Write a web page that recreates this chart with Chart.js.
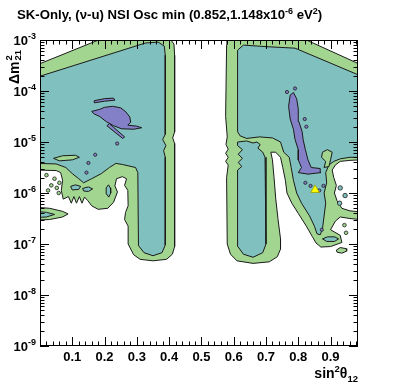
<!DOCTYPE html>
<html>
<head>
<meta charset="utf-8">
<script src="https://cdn.jsdelivr.net/npm/chart.js@4.4.0/dist/chart.umd.min.js"></script>
<style>
  html, body { margin: 0; padding: 0; background: #fff; }
  #chart { display: block; }
</style>
</head>
<body>
<canvas id="chart" width="399" height="385"></canvas>
<script>
// contour outlines: [sin^2(theta12), log10(dm2_21)]
const greenLeft = [
  [-0.01, -3.49], [0.193, -2.97], [0.402, -2.97], [0.415, -3.08], [0.417, -3.3], [0.417, -4.8],
  [0.411, -4.92], [0.417, -5.03], [0.417, -7.05], [0.41, -7.2], [0.392, -7.3], [0.35, -7.33],
  [0.31, -7.3], [0.29, -7.21], [0.273, -7.0], [0.273, -6.65], [0.262, -6.52], [0.265, -6.38],
  [0.273, -6.25], [0.272, -5.95], [0.262, -5.85], [0.268, -5.72], [0.255, -5.68], [0.237, -5.72],
  [0.232, -5.86], [0.24, -5.98], [0.228, -6.18], [0.21, -6.3], [0.18, -6.32], [0.16, -6.25],
  [0.148, -6.15], [0.138, -6.08], [0.13, -6.2], [0.122, -6.07], [0.113, -6.2], [0.105, -6.07],
  [0.097, -6.2], [0.088, -6.07], [0.072, -6.12], [0.066, -5.95], [0.07, -5.75], [0.064, -5.6],
  [0.05, -5.56], [-0.01, -5.55], [-0.01, -3.49]
];
const tealLeft = [
  [-0.01, -3.73], [0.326, -3.06], [0.366, -3.04], [0.385, -3.12], [0.388, -3.3], [0.388, -4.85],
  [0.38, -4.95], [0.39, -5.07], [0.383, -5.17], [0.388, -5.3], [0.388, -7.02], [0.378, -7.17],
  [0.35, -7.23], [0.322, -7.17], [0.305, -7.03], [0.303, -5.6], [0.296, -5.5], [0.255, -5.44],
  [0.235, -5.42], [0.215, -5.5], [0.19, -5.62], [0.16, -5.72], [0.135, -5.8], [0.12, -5.72],
  [0.1, -5.62], [0.08, -5.5], [0.05, -5.43], [-0.01, -5.42], [-0.01, -3.73]
];
const greenSliverLeft = [
  [0.042, -5.32], [0.07, -5.27], [0.11, -5.26], [0.122, -5.3], [0.1, -5.35], [0.06, -5.37], [0.042, -5.32]
];
const greenBlobLeft = [
  [-0.01, -6.28], [0.03, -6.3], [0.07, -6.36], [0.087, -6.41], [0.07, -6.47], [0.03, -6.52],
  [-0.01, -6.53], [-0.01, -6.28]
];
const tealBlobLeft = [
  [-0.01, -6.36], [0.02, -6.38], [0.045, -6.42], [0.02, -6.47], [-0.01, -6.48], [-0.01, -6.36]
];
const tealIslandA = [
  [0.212, -5.84], [0.218, -5.9], [0.219, -6.0], [0.213, -6.08], [0.206, -6.02], [0.205, -5.9], [0.212, -5.84]
];
const tealIslandB = [
  [0.095, -5.87], [0.11, -5.84], [0.126, -5.87], [0.12, -5.93], [0.1, -5.94], [0.095, -5.87]
];
const tealIslandC = [
  [0.132, -5.91], [0.15, -5.88], [0.163, -5.92], [0.15, -5.97], [0.135, -5.96], [0.132, -5.91]
];
const purpleLeft = [
  [0.16, -4.4], [0.185, -4.36], [0.2, -4.32], [0.225, -4.3], [0.25, -4.33], [0.266, -4.41],
  [0.278, -4.51], [0.281, -4.61], [0.272, -4.67], [0.3, -4.69], [0.315, -4.72], [0.29, -4.75],
  [0.252, -4.74], [0.228, -4.68], [0.205, -4.6], [0.185, -4.5], [0.168, -4.45], [0.16, -4.4]
];
const purpleStreakLeft = [
  [0.215, -4.64], [0.262, -4.9], [0.256, -4.93], [0.207, -4.68], [0.215, -4.64]
];
const purpleBitsLeft = [
  [0.168, -4.19], [0.2, -4.15], [0.228, -4.14], [0.232, -4.18], [0.2, -4.2], [0.17, -4.23], [0.168, -4.19]
];

const greenRight = [
  [0.579, -2.97], [0.815, -2.97], [0.992, -3.48], [0.992, -5.35], [0.96, -5.36], [0.93, -5.38],
  [0.915, -5.45], [0.905, -5.55], [0.91, -5.7], [0.918, -5.85], [0.912, -6.0], [0.92, -6.15],
  [0.935, -6.3], [0.96, -6.35], [0.992, -6.37], [0.992, -6.52], [0.96, -6.5], [0.93, -6.47],
  [0.915, -6.55], [0.9, -6.72], [0.93, -6.83], [0.935, -6.97], [0.9, -7.05], [0.87, -7.06],
  [0.855, -6.98], [0.843, -6.85], [0.825, -6.65], [0.8, -6.4], [0.78, -6.2], [0.765, -6.0],
  [0.76, -5.75], [0.752, -5.5], [0.745, -5.3], [0.73, -5.2], [0.715, -5.2], [0.72, -5.35],
  [0.725, -5.7], [0.73, -6.1], [0.737, -6.5], [0.745, -6.9], [0.745, -7.1], [0.735, -7.25],
  [0.71, -7.35], [0.66, -7.38], [0.61, -7.33], [0.59, -7.2], [0.58, -7.0], [0.578, -5.7],
  [0.583, -5.45], [0.575, -5.38], [0.583, -5.3], [0.575, -5.22], [0.583, -5.14], [0.576, -5.05],
  [0.58, -4.9], [0.575, -4.5], [0.578, -3.1], [0.579, -2.97]
];
const tealRight = [
  [0.612, -3.2], [0.63, -3.1], [0.7, -3.13], [0.79, -3.16], [0.992, -3.7], [0.992, -5.3],
  [0.96, -5.3], [0.93, -5.33], [0.91, -5.38], [0.895, -5.45], [0.885, -5.6], [0.888, -5.8],
  [0.88, -6.0], [0.885, -6.2], [0.88, -6.45], [0.875, -6.7], [0.868, -6.82], [0.858, -6.8],
  [0.85, -6.65], [0.835, -6.45], [0.81, -6.2], [0.795, -6.0], [0.785, -5.75], [0.778, -5.5],
  [0.772, -5.3], [0.755, -5.2], [0.745, -5.0], [0.72, -4.92], [0.68, -4.9], [0.64, -4.93],
  [0.62, -4.88], [0.612, -4.8], [0.612, -3.2]
];
const tealColumn = [
  [0.612, -5.0], [0.64, -4.98], [0.66, -5.02], [0.672, -5.0], [0.682, -5.05], [0.675, -5.12],
  [0.69, -5.2], [0.697, -5.3], [0.7, -7.0], [0.69, -7.17], [0.66, -7.26], [0.63, -7.2],
  [0.613, -7.05], [0.612, -5.55], [0.625, -5.48], [0.614, -5.4], [0.627, -5.32], [0.614, -5.24],
  [0.627, -5.15], [0.612, -5.07], [0.612, -5.0]
];
const greenIslandRight = [
  [0.875, -5.2], [0.89, -5.15], [0.905, -5.2], [0.9, -5.35], [0.895, -5.48], [0.88, -5.5],
  [0.885, -5.38], [0.872, -5.3], [0.875, -5.2]
];
const tealBlobBand = [
  [0.875, -6.9], [0.89, -6.86], [0.913, -6.86], [0.925, -6.9], [0.912, -6.95], [0.888, -6.95], [0.875, -6.9]
];
const greenBlobBottom = [
  [0.918, -7.12], [0.93, -7.07], [0.948, -7.09], [0.95, -7.14], [0.935, -7.18], [0.92, -7.16], [0.918, -7.12]
];
const purpleRight = [
  [0.775, -4.08], [0.77, -4.3], [0.775, -4.55], [0.785, -4.75], [0.79, -4.95], [0.8, -5.15],
  [0.8, -5.35], [0.81, -5.5], [0.8, -5.6], [0.83, -5.63], [0.87, -5.6], [0.868, -5.52],
  [0.84, -5.5], [0.83, -5.35], [0.822, -5.15], [0.815, -4.95], [0.812, -4.8], [0.802, -4.6],
  [0.8, -4.35], [0.795, -4.15], [0.785, -4.03], [0.775, -4.08]
];

// small islands
const purpleDots = [
  [0.239, -5.03], [0.171, -5.25], [0.15, -5.41], [0.144, -5.6], [0.822, -5.8], [0.838, -5.86],
  [0.878, -5.86], [0.865, -5.95], [0.873, -6.72], [0.79, -3.95], [0.765, -4.02], [0.82, -4.55],
  [0.825, -4.7]
];
const greenDots = [
  [0.02, -5.65], [0.045, -5.72], [0.035, -5.85], [0.052, -5.9], [0.058, -6.0], [0.025, -5.95],
  [0.06, -5.8], [0.943, -6.63], [0.948, -6.78]
];
const tealDots = [
  [0.93, -5.9], [0.945, -6.05], [0.928, -6.2]
];

const bestFitX = [0.852];
const bestFitY = [1.148e-6];

const xTickLabels = ['0.1', '0.2', '0.3', '0.4', '0.5', '0.6', '0.7', '0.8', '0.9'];
const yTickExponents = [-9, -8, -7, -6, -5, -4, -3];

const GREEN = '#a2d690';
const TEAL = '#80c0be';
const PURPLE = '#8480c8';
const LINE = '#1a1a1a';
const FONT = '"Liberation Sans", Arial, sans-serif';

function toPoints(poly) {
  return poly.map(p => ({ x: p[0], y: Math.pow(10, p[1]) }));
}

function contour(poly, color, order) {
  return {
    data: toPoints(poly),
    fill: 'shape',
    backgroundColor: color,
    borderColor: LINE,
    borderWidth: 1,
    pointRadius: 0,
    tension: 0,
    order: order
  };
}

function dots(pts, color, r, order) {
  return {
    data: toPoints(pts),
    showLine: false,
    pointRadius: r,
    pointBackgroundColor: color,
    pointBorderColor: LINE,
    pointBorderWidth: 0.8,
    order: order
  };
}

function drawRich(ctx, parts, x, y, align) {
  let w = 0;
  parts.forEach(p => {
    ctx.font = 'bold ' + p[1] + 'px ' + FONT;
    w += ctx.measureText(p[0]).width;
  });
  let cx = align === 'right' ? x - w : x;
  parts.forEach(p => {
    ctx.font = 'bold ' + p[1] + 'px ' + FONT;
    ctx.fillText(p[0], cx, y + p[2]);
    cx += ctx.measureText(p[0]).width;
  });
  return w;
}

const rootAxes = {
  id: 'rootAxes',
  afterDraw(chart) {
    const { ctx, chartArea: a, scales } = chart;
    const xs = scales.x, ys = scales.y;
    ctx.save();
    ctx.strokeStyle = '#000';
    ctx.lineWidth = 1;

    ctx.beginPath();
    for (let i = 0; i * 0.02 <= xs.max + 1e-9; i++) {
      const px = Math.round(xs.getPixelForValue(i * 0.02)) + 0.5;
      const len = i % 5 === 0 ? 9 : 4.5;
      ctx.moveTo(px, a.bottom);
      ctx.lineTo(px, a.bottom - len);
      ctx.moveTo(px, a.top);
      ctx.lineTo(px, a.top + len);
    }
    yTickExponents.forEach(e => {
      for (let k = 1; k <= 9; k++) {
        if (e === -3 && k > 1) break;
        const py = Math.round(ys.getPixelForValue(k * Math.pow(10, e))) + 0.5;
        const len = k === 1 ? 9 : 4.5;
        ctx.moveTo(a.left, py);
        ctx.lineTo(a.left + len, py);
        ctx.moveTo(a.right, py);
        ctx.lineTo(a.right - len, py);
      }
    });
    ctx.stroke();
    ctx.strokeRect(a.left + 0.5, a.top + 0.5, a.right - a.left - 1, a.bottom - a.top - 1);

    ctx.fillStyle = '#000';
    ctx.textBaseline = 'alphabetic';

    // x tick labels
    ctx.textAlign = 'center';
    ctx.font = 'bold 13px ' + FONT;
    xTickLabels.forEach(t => {
      ctx.fillText(t, xs.getPixelForValue(parseFloat(t)), a.bottom + 15);
    });

    // y tick labels 10^n
    ctx.textAlign = 'left';
    yTickExponents.forEach(e => {
      const py = ys.getPixelForValue(Math.pow(10, e));
      drawRich(ctx, [['10', 13, 0], ['-' + Math.abs(e), 9, -6]], a.left - 4, py + 4.5, 'right');
    });

    // title
    const titleParts = [
      ['SK-Only, (\u03bd-u) NSI Osc min (0.852,1.148x10', 13.2, 0],
      ['-6', 9, -5],
      [' eV', 13.2, 0],
      ['2', 9, -5],
      [')', 13.2, 0]
    ];
    drawRich(ctx, titleParts, 17, 18.5, 'left');

    // x axis title
    drawRich(ctx, [['sin', 14, 0], ['2', 9.5, -6], ['\u03b8', 14, 0], ['12', 9.5, 3.5]], a.right, 378, 'right');

    // y axis title (rotated)
    ctx.save();
    ctx.translate(18.5, 84);
    ctx.rotate(-Math.PI / 2);
    ctx.font = 'bold 14px ' + FONT;
    ctx.fillText('\u0394m', 0, 0);
    const w = ctx.measureText('\u0394m').width;
    ctx.font = 'bold 9.5px ' + FONT;
    ctx.fillText('2', w + 1, -6.5);
    ctx.fillText('21', w + 1, 2.5);
    ctx.restore();

    ctx.restore();
  }
};

const datasets = [
  contour(greenLeft, GREEN, 6),
  contour(greenRight, GREEN, 6),
  contour(greenBlobLeft, GREEN, 6),
  contour(greenBlobBottom, GREEN, 6),
  contour(tealLeft, TEAL, 5),
  contour(tealRight, TEAL, 5),
  contour(tealColumn, TEAL, 5),
  contour(tealBlobLeft, TEAL, 5),
  contour(tealIslandA, TEAL, 5),
  contour(tealIslandB, TEAL, 5),
  contour(tealIslandC, TEAL, 5),
  contour(tealBlobBand, TEAL, 5),
  contour(greenSliverLeft, GREEN, 4),
  contour(greenIslandRight, GREEN, 4),
  contour(purpleLeft, PURPLE, 2),
  contour(purpleStreakLeft, PURPLE, 2),
  contour(purpleBitsLeft, PURPLE, 2),
  contour(purpleRight, PURPLE, 2),
  dots(greenDots, GREEN, 1.8, 1),
  dots(tealDots, TEAL, 2.2, 1),
  dots(purpleDots, PURPLE, 1.6, 1),
  {
    data: bestFitX.map((x, i) => ({ x: x, y: bestFitY[i] })),
    showLine: false,
    pointStyle: 'triangle',
    pointRadius: 5,
    pointBackgroundColor: '#ffff00',
    pointBorderColor: '#a0a000',
    pointBorderWidth: 0.8,
    order: 0
  }
];

new Chart(document.getElementById('chart'), {
  type: 'line',
  data: { datasets: datasets },
  options: {
    responsive: false,
    animation: false,
    events: [],
    layout: { padding: { left: 40, top: 40, right: 41, bottom: 39 } },
    scales: {
      x: { type: 'linear', min: 0, max: 0.985, display: false },
      y: { type: 'logarithmic', min: 1e-9, max: 1e-3, display: false }
    },
    plugins: {
      legend: { display: false },
      tooltip: { enabled: false }
    }
  },
  plugins: [rootAxes]
});
</script>
</body>
</html>
